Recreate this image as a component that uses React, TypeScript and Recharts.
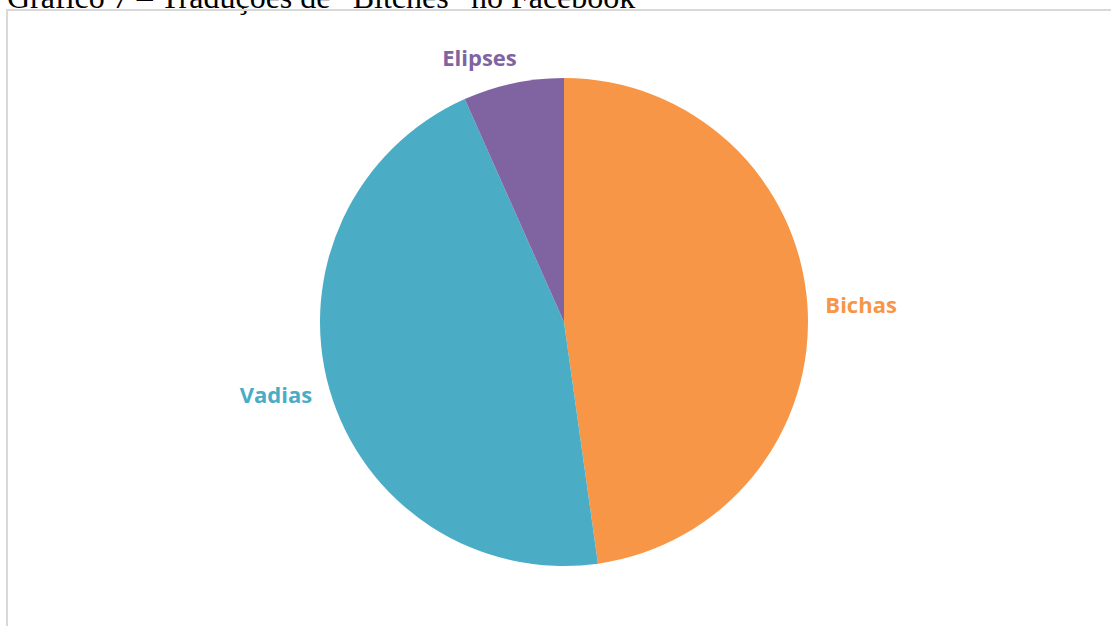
import { PieChart, Pie, Cell } from 'recharts'

// Traduções de "Bitches" (contagens estimadas a partir do gráfico)
const categorias = ['Bichas', 'Vadias', 'Elipses']
const ocorrencias = [43, 41, 6]
const cores = ['#F79646', '#4BACC6', '#8064A2']

const data = categorias.map((nome, i) => ({ name: nome, value: ocorrencias[i] }))

const RADIAN = Math.PI / 180

// rótulo fora da fatia, como no Excel ("extremidade externa")
const renderLabel = (props: any) => {
  const { cx, cy, midAngle, outerRadius, name, index } = props
  const cos = Math.cos(-midAngle * RADIAN)
  const sin = Math.sin(-midAngle * RADIAN)
  const r = outerRadius + 18
  let x = cx + r * cos
  const y = cy + r * sin
  let anchor: 'start' | 'end' | 'middle' = cos >= 0 ? 'start' : 'end'
  let baseline = 'central'
  if (Math.abs(cos) < 0.3) {
    anchor = 'middle'
    baseline = sin < 0 ? 'auto' : 'hanging'
    x -= 30
  }
  return (
    <text
      x={x}
      y={y}
      fill={cores[index]}
      textAnchor={anchor}
      dominantBaseline={baseline}
      fontFamily="'Open Sans', sans-serif"
      fontWeight={700}
      fontSize={22}
    >
      {name}
    </text>
  )
}

export default function App() {
  return (
    <div
      style={{
        position: 'fixed',
        left: 0,
        top: 0,
        width: 1111,
        height: 626,
        overflow: 'hidden',
        background: '#fff',
      }}
    >
      <style>{`.recharts-pie-sectors { filter: drop-shadow(1px 2px 4px rgba(0,0,0,0.3)); }`}</style>
      <div
        style={{
          position: 'absolute',
          left: 7,
          top: -19,
          fontFamily: "'Liberation Serif', 'Times New Roman', serif",
          fontSize: 32,
          lineHeight: '32px',
          whiteSpace: 'nowrap',
          color: '#000',
        }}
      >
        Gráfico 7 – Traduções de “Bitches” no Facebook
      </div>
      <div
        style={{
          position: 'absolute',
          left: 6,
          top: 9,
          width: 1200,
          height: 700,
          border: '2px solid #d9d9d9',
        }}
      />
      <div style={{ position: 'absolute', left: 0, top: 0 }}>
        <PieChart width={1111} height={626} margin={{ top: 0, right: 0, bottom: 0, left: 0 }}>
          <Pie
            data={data}
            dataKey="value"
            nameKey="name"
            cx={564}
            cy={322}
            outerRadius={244}
            startAngle={90}
            endAngle={-270}
            stroke="none"
            label={renderLabel}
            labelLine={false}
            isAnimationActive={false}
          >
            {data.map((d, i) => (
              <Cell key={d.name} fill={cores[i]} />
            ))}
          </Pie>
        </PieChart>
      </div>
    </div>
  )
}
